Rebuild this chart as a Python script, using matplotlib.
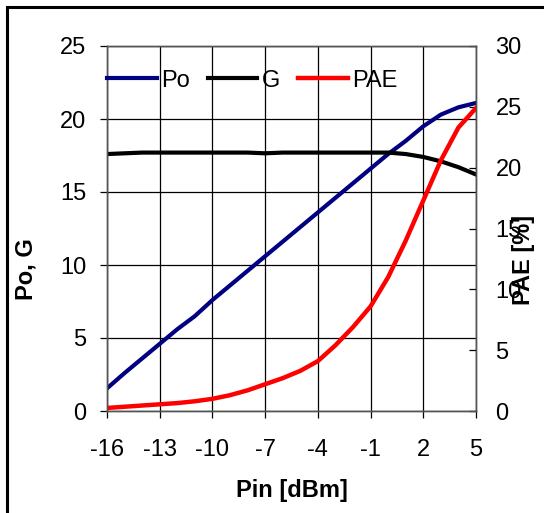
import matplotlib
matplotlib.use("Agg")
import matplotlib.pyplot as plt
from matplotlib.patches import Rectangle

plt.rcParams["font.family"] = ["Liberation Sans", "DejaVu Sans"]
plt.rcParams["axes.unicode_minus"] = False

# data
pin = [-16, -15, -14, -13, -12, -11, -10, -9, -8, -7, -6, -5, -4, -3, -2, -1, 0, 1, 2, 3, 4, 5]
po = [1.55, 2.6, 3.6, 4.6, 5.6, 6.5, 7.6, 8.6, 9.6, 10.6, 11.6, 12.6, 13.6, 14.6, 15.6,
      16.6, 17.6, 18.5, 19.5, 20.3, 20.8, 21.1]
gain = [17.6, 17.65, 17.7, 17.7, 17.7, 17.7, 17.7, 17.7, 17.7, 17.65, 17.7, 17.7, 17.7,
        17.7, 17.7, 17.7, 17.7, 17.6, 17.4, 17.1, 16.7, 16.2]
pae = [0.25, 0.35, 0.45, 0.55, 0.65, 0.8, 1.0, 1.3, 1.7, 2.2, 2.7, 3.3, 4.1, 5.4, 6.9,
       8.6, 11.0, 14.0, 17.3, 20.6, 23.3, 24.9]

xticks = [-16, -13, -10, -7, -4, -1, 2, 5]
fs = 17

fig = plt.figure(figsize=(5.44, 5.13), dpi=100)
ax = fig.add_axes([107 / 544, 1 - 411 / 513, 369 / 544, 365 / 513])
ax2 = ax.twinx()

l1, = ax.plot(pin, po, color="#000080", lw=3.0, label="Po")
l2, = ax.plot(pin, gain, color="black", lw=3.0, label="G")
l3, = ax2.plot(pin, pae, color="#ff0000", lw=3.2, label="PAE")

ax.set_xlim(-16, 5)
ax.set_ylim(0, 25)
ax2.set_ylim(0, 30)
ax.set_xticks(xticks)
ax.set_yticks([0, 5, 10, 15, 20, 25])
ax2.set_yticks([0, 5, 10, 15, 20, 25, 30])

ax.grid(True, color="black", lw=0.9)
ax.set_axisbelow(True)
for a in (ax, ax2):
    for s in a.spines.values():
        s.set_color("#555555")
        s.set_linewidth(1.0)

ax.tick_params(axis="x", direction="out", length=5, width=0.9, pad=15, labelsize=fs)
ax.tick_params(axis="y", direction="out", length=5, width=0.9, pad=10, labelsize=fs)
ax2.tick_params(axis="y", direction="in", length=5, width=0.9, pad=14, labelsize=fs)

ax.set_xlabel("Pin [dBm]", fontsize=fs, fontweight="bold")
ax.xaxis.set_label_coords(0.5, -0.185)
ax.set_ylabel("Po, G", fontsize=fs, fontweight="bold")
ax.yaxis.set_label_coords(-0.187, 0.39)
ax2.set_ylabel("PAE [%]", fontsize=fs, fontweight="bold")
ax2.yaxis.set_label_coords(1.098, 0.414)

ax2.legend(handles=[l1, l2, l3], loc="upper left", bbox_to_anchor=(0.0, 0.935),
           ncol=3, frameon=False, fontsize=fs, handlelength=2.1, handletextpad=0.2,
           columnspacing=0.75, borderpad=0, borderaxespad=0)

# outer frame (cut off at right and bottom in the reference)
fig.patches.append(Rectangle((7 / 544, -0.1), 1.2, 1 - 7 / 513 + 0.1, transform=fig.transFigure,
                             fill=False, edgecolor="black", lw=2.2))

fig.savefig("out.png", dpi=100)
